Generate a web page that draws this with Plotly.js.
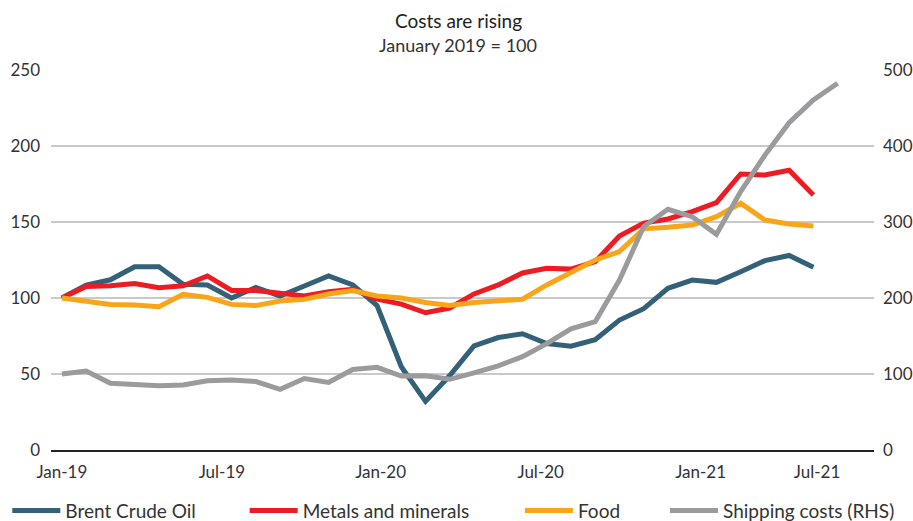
<!DOCTYPE html>
<html>
<head>
<meta charset="utf-8">
<script src="https://cdn.plot.ly/plotly-3.0.1.min.js"></script>
<style>
html,body{margin:0;padding:0;background:#fff;}
#chart{width:913px;height:521px;}
</style>
</head>
<body>
<div id="chart"></div>
<script>
// Monthly periods, Jan-19 onwards
var periods = ["Jan-19","Feb-19","Mar-19","Apr-19","May-19","Jun-19","Jul-19","Aug-19","Sep-19","Oct-19","Nov-19","Dec-19",
               "Jan-20","Feb-20","Mar-20","Apr-20","May-20","Jun-20","Jul-20","Aug-20","Sep-20","Oct-20","Nov-20","Dec-20",
               "Jan-21","Feb-21","Mar-21","Apr-21","May-21","Jun-21","Jul-21","Aug-21","Sep-21"];

var brent = [100,108.5,112,120.6,120.6,109,108.5,100,107,101.3,107.9,114.5,108.6,95,54.8,32,49,68.5,74,76.5,70,68.3,72.6,85.5,93,106.4,111.8,110.3,117.3,124.6,128,120.2];
var metals = [100,107.5,108,109.5,106.8,108,114.5,105,105,103.5,101.3,104.2,105.8,99.2,96,90.3,93.4,102.7,108.6,116.5,119.5,119,123.9,140.8,149.3,152,156.8,162.7,181.6,180.9,184,167.8];
var food = [100,98.2,95.8,95.4,94.3,102.4,100.4,95.8,95,98,99.1,102.6,104.9,101.3,100,97,95,97,97.9,99.2,108.6,117,125,130.5,145.5,146.5,148,153.5,162.3,151.3,148.7,147.4];
var shipping = [100,104,87.7,86.8,84.5,85.5,91.2,92,90,79.8,94,89,106,108.8,97.4,97.8,93,101.5,110.7,122.8,140,159.5,168.9,223.7,294,316.7,307,283.8,340,388,430.7,460.5,482.5];

var seriesNames = ["Brent Crude Oil","Metals and minerals","Food","Shipping costs (RHS)"];
var tickLabels = ["Jan-19","Jul-19","Jan-20","Jul-20","Jan-21","Jul-21"];
var leftTicks = [0,50,100,150,200,250];
var rightTicks = [0,100,200,300,400,500];
var chartTitle = "Costs are rising";
var chartSubtitle = "January 2019 = 100";

function idx(arr){ return arr.map(function(_, i){ return i; }); }

var colors = ["#346178","#ED1C24","#F9A51A","#9B9B9D"];

var traces = [
  {x: idx(brent), y: brent, name: seriesNames[0], text: periods.slice(0, brent.length), legend: "legend"},
  {x: idx(metals), y: metals, name: seriesNames[1], text: periods.slice(0, metals.length), legend: "legend2"},
  {x: idx(food), y: food, name: seriesNames[2], text: periods.slice(0, food.length), legend: "legend3"},
  {x: idx(shipping), y: shipping, name: seriesNames[3], text: periods.slice(0, shipping.length), yaxis: "y2", legend: "legend4"}
].map(function(t, i){
  t.type = "scatter"; t.mode = "lines";
  t.line = {color: colors[i], width: 5, shape: "linear"};
  t.hovertemplate = "%{text}: %{y}<extra>" + t.name + "</extra>";
  return t;
});
traces = [traces[3], traces[0], traces[1], traces[2]];

var fontFam = "Lato, 'Open Sans', sans-serif";
function leg(x){
  return {xref: "container", yref: "container", x: x, y: 0.02, xanchor: "left", yanchor: "middle",
          orientation: "h", bgcolor: "rgba(0,0,0,0)", borderwidth: 0, itemwidth: 48,
          font: {family: fontFam, size: 19, color: "#333"}};
}

var layout = {
  width: 913, height: 521,
  margin: {l: 51, r: 39, t: 70, b: 71},
  paper_bgcolor: "#fff", plot_bgcolor: "#fff",
  font: {family: fontFam, color: "#333"},
  showlegend: true,
  legend: leg(0.008),
  legend2: leg(0.268),
  legend3: leg(0.5695),
  legend4: leg(0.7284),
  xaxis: {
    range: [-0.45, 33.5], showgrid: false, zeroline: false,
    showline: true, linecolor: "#222", linewidth: 1.5,
    tickmode: "array", tickvals: [0, 6.6, 13.15, 19.75, 26.35, 31.15], ticktext: tickLabels,
    ticks: "", ticklabelstandoff: 6,
    tickfont: {family: fontFam, size: 17, color: "#333"}
  },
  yaxis: {
    range: [0, 250], tickmode: "array", tickvals: leftTicks,
    showgrid: true, gridcolor: "#c9c9c9", gridwidth: 1.5, zeroline: false,
    showline: false, ticks: "", ticklabelstandoff: 10,
    tickfont: {family: fontFam, size: 17, color: "#333"}
  },
  yaxis2: {
    range: [0, 500], overlaying: "y", side: "right", tickmode: "array", tickvals: rightTicks,
    showgrid: false, zeroline: false, showline: false, ticks: "", ticklabelstandoff: 8,
    tickfont: {family: fontFam, size: 17, color: "#333"}
  },
  annotations: [
    {text: chartTitle, xref: "paper", yref: "paper", x: 0.495, y: 430/380, xanchor: "center", yanchor: "middle",
     showarrow: false, font: {family: fontFam, size: 19, color: "#222"}},
    {text: chartSubtitle, xref: "paper", yref: "paper", x: 0.495, y: 405/380, xanchor: "center", yanchor: "middle",
     showarrow: false, font: {family: fontFam, size: 18, color: "#333"}}
  ]
};

Plotly.newPlot("chart", traces, layout, {displayModeBar: false, staticPlot: true});
</script>
</body>
</html>
